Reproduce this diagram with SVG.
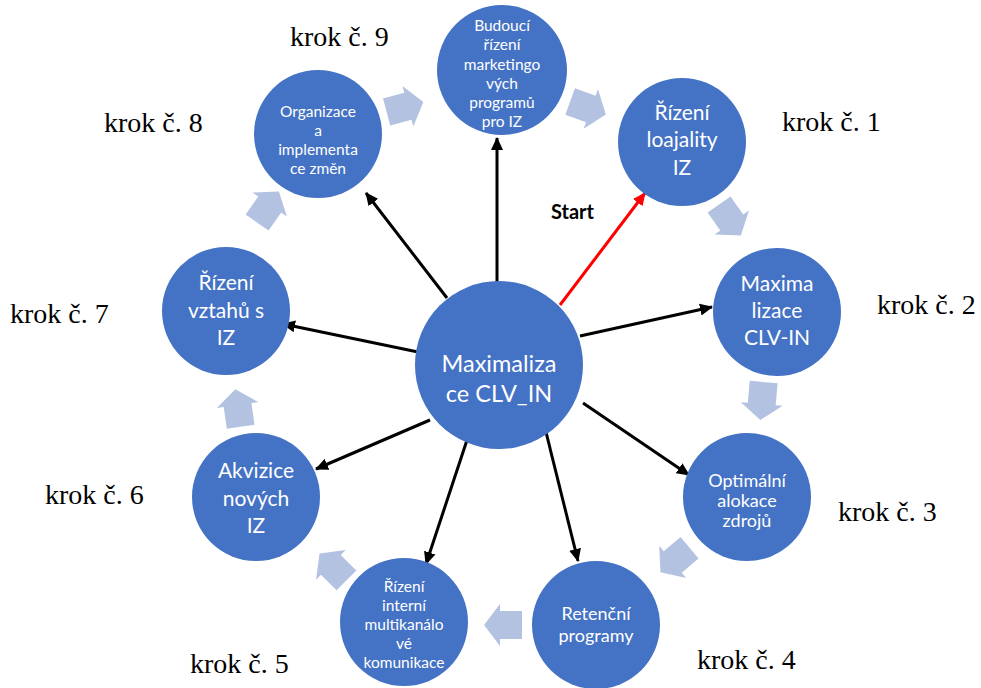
<svg xmlns="http://www.w3.org/2000/svg" width="981" height="688" viewBox="0 0 981 688">
<style>
.node{fill:#4472C4;}
.t{fill:#ffffff;font-family:Lato,"Open Sans",sans-serif;text-anchor:middle;}
.big{font-size:23.5px;}
.mid{font-size:21px;}
.sm{font-size:15.5px;}
.sm18{font-size:18px;}
.krok{font-family:"Liberation Serif","Times New Roman",serif;font-size:28px;fill:#000;}
.conn{stroke:#000;stroke-width:3;fill:none;}
.red{stroke:#FF0000;stroke-width:3;fill:none;}
.barrow{fill:#B4C2E2;}
</style>
<defs>
<marker id="ah" markerUnits="userSpaceOnUse" markerWidth="14" markerHeight="14" refX="12" refY="7" orient="auto">
<path d="M0,1 L13,7 L0,13 z" fill="#000"/>
</marker>
<marker id="ahr" markerUnits="userSpaceOnUse" markerWidth="14" markerHeight="14" refX="12" refY="7" orient="auto">
<path d="M0,1 L13,7 L0,13 z" fill="#FF0000"/>
</marker>
<polygon id="ba" points="-19,-14 3,-14 3,-21 19,0 3,21 3,14 -19,14"/>
</defs>

<g id="block-arrows" class="barrow">
<use href="#ba" transform="translate(405,107) rotate(-15)"/>
<use href="#ba" transform="translate(588,108) rotate(20)"/>
<use href="#ba" transform="translate(730,220) rotate(55)"/>
<use href="#ba" transform="translate(762,401) rotate(95)"/>
<use href="#ba" transform="translate(675,560) rotate(140)"/>
<use href="#ba" transform="translate(503,625) rotate(180)"/>
<use href="#ba" transform="translate(333,567) rotate(225)"/>
<use href="#ba" transform="translate(238,408) rotate(-98)"/>
<use href="#ba" transform="translate(268,207) rotate(-55)"/>
</g>

<g id="connectors">
<line class="conn" x1="497" y1="282" x2="497" y2="138" marker-end="url(#ah)"/>
<line class="conn" x1="447" y1="298" x2="366" y2="193" marker-end="url(#ah)"/>
<line class="conn" x1="418" y1="352" x2="283" y2="324" marker-end="url(#ah)"/>
<line class="conn" x1="430" y1="420" x2="316" y2="469" marker-end="url(#ah)"/>
<line class="conn" x1="471" y1="428" x2="426" y2="564" marker-end="url(#ah)"/>
<line class="conn" x1="542" y1="416" x2="578" y2="561" marker-end="url(#ah)"/>
<line class="conn" x1="583" y1="403" x2="689" y2="475" marker-end="url(#ah)"/>
<line class="conn" x1="580" y1="336" x2="712" y2="307" marker-end="url(#ah)"/>
<line class="red" x1="560" y1="305" x2="645" y2="193" marker-end="url(#ahr)"/>
</g>

<g id="center">
<circle class="node" cx="499" cy="365" r="84"/>
<text class="t big" x="499" y="372">Maximaliza</text>
<text class="t big" x="499" y="402">ce CLV_IN</text>
</g>

<g id="n9">
<circle class="node" cx="502" cy="70" r="65"/>
<text class="t sm" x="502" y="31">Budoucí</text>
<text class="t sm" x="502" y="50">řízení</text>
<text class="t sm" x="502" y="70">marketingo</text>
<text class="t sm" x="502" y="89">vých</text>
<text class="t sm" x="502" y="108">programů</text>
<text class="t sm" x="502" y="127">pro IZ</text>
</g>

<g id="n1">
<circle class="node" cx="682" cy="142" r="64"/>
<text class="t mid" x="682" y="120">Řízení</text>
<text class="t mid" x="682" y="147">loajality</text>
<text class="t mid" x="682" y="175">IZ</text>
</g>

<g id="n2">
<circle class="node" cx="777" cy="312" r="64"/>
<text class="t mid" x="777" y="291">Maxima</text>
<text class="t mid" x="777" y="318">lizace</text>
<text class="t mid" x="777" y="345">CLV-IN</text>
</g>

<g id="n3">
<circle class="node" cx="747" cy="497" r="64"/>
<text class="t sm18" x="747" y="487">Optimální</text>
<text class="t sm18" x="747" y="507">alokace</text>
<text class="t sm18" x="747" y="527">zdrojů</text>
</g>

<g id="n4">
<circle class="node" cx="596" cy="625" r="64"/>
<text class="t sm18" x="596" y="620">Retenční</text>
<text class="t sm18" x="596" y="642">programy</text>
</g>

<g id="n5">
<circle class="node" cx="404" cy="622" r="64"/>
<text class="t sm" x="404" y="592">Řízení</text>
<text class="t sm" x="404" y="611">interní</text>
<text class="t sm" x="404" y="630">multikanálo</text>
<text class="t sm" x="404" y="649">vé</text>
<text class="t sm" x="404" y="668">komunikace</text>
</g>

<g id="n6">
<circle class="node" cx="256" cy="497" r="64"/>
<text class="t mid" x="256" y="478">Akvizice</text>
<text class="t mid" x="256" y="506">nových</text>
<text class="t mid" x="256" y="533">IZ</text>
</g>

<g id="n7">
<circle class="node" cx="226" cy="311" r="64"/>
<text class="t mid" x="226" y="290">Řízení</text>
<text class="t mid" x="226" y="318">vztahů s</text>
<text class="t mid" x="226" y="345">IZ</text>
</g>

<g id="n8">
<circle class="node" cx="318" cy="134" r="64"/>
<text class="t sm" x="318" y="117">Organizace</text>
<text class="t sm" x="318" y="136">a</text>
<text class="t sm" x="318" y="155">implementa</text>
<text class="t sm" x="318" y="174">ce změn</text>
</g>

<g id="labels">
<text class="krok" x="290" y="46">krok č. 9</text>
<text class="krok" x="104" y="132">krok č. 8</text>
<text class="krok" x="782" y="131">krok č. 1</text>
<text class="krok" x="877" y="314">krok č. 2</text>
<text class="krok" x="10" y="323">krok č. 7</text>
<text class="krok" x="838" y="521">krok č. 3</text>
<text class="krok" x="45" y="504">krok č. 6</text>
<text class="krok" x="697" y="669">krok č. 4</text>
<text class="krok" x="190" y="673">krok č. 5</text>
<text x="551" y="219" font-family="Lato,'Open Sans',sans-serif" font-weight="bold" font-size="20" fill="#000">Start</text>
</g>
</svg>
